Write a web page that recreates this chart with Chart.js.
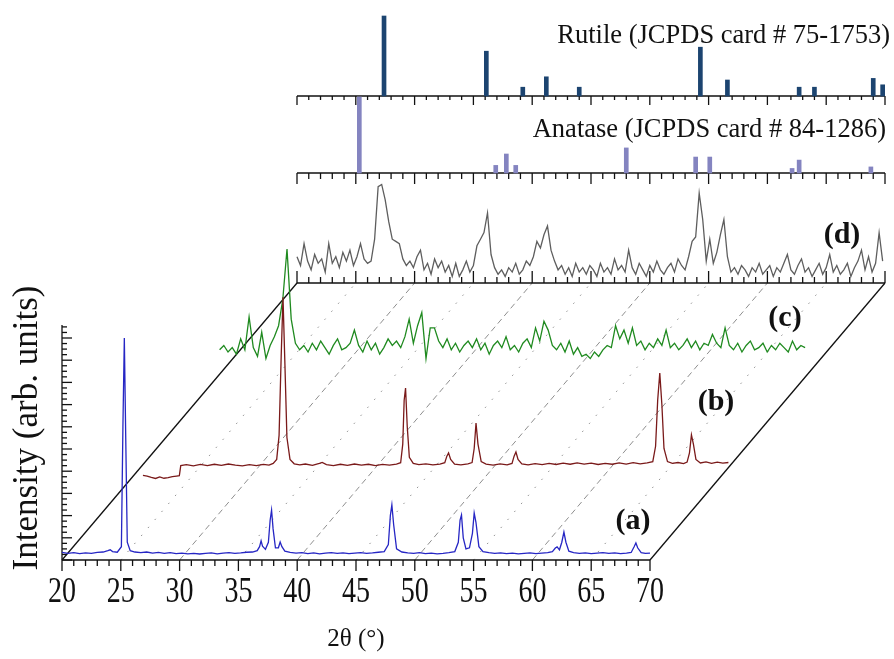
<!DOCTYPE html>
<html>
<head>
<meta charset="utf-8">
<script src="https://cdn.jsdelivr.net/npm/chart.js@4.4.1/dist/chart.umd.min.js"></script>
<style>
html, body { margin: 0; padding: 0; background: #fff; }
#wrap { width: 894px; height: 659px; position: relative; }
</style>
</head>
<body>
<div id="wrap"><canvas id="xrd"></canvas></div>
<script>
// ---- reference stick patterns (2theta, relative intensity) ----
const rutilePos = [27.4, 36.1, 39.2, 41.2, 44.0, 54.3, 56.6, 62.7, 64.0, 69.0, 69.8];
const rutileInt = [100, 56, 11, 24, 11, 61, 20, 11, 11, 22, 14];
const anatasePos = [25.3, 36.9, 37.8, 38.6, 48.0, 53.9, 55.1, 62.1, 62.7, 68.8];
const anataseInt = [100, 10, 25, 10, 33, 21, 21, 6, 17, 8];

// ---- measured patterns ----
// (a) [2theta, intensity]
const seriesA = [[20.0,3.4],[20.5,3.0],[21.0,3.3],[21.5,2.9],[22.0,3.2],[22.5,3.0],[23.0,3.4],[23.5,3.6],[23.9,4.2],[24.1,4.6],[24.3,3.8],[24.7,3.5],[25.05,6],[25.18,60],[25.3,100],[25.42,55],[25.55,8],[25.8,4.2],[26.2,3.6],[26.7,3.3],[27.2,3.6],[27.7,3.1],[28.2,3.4],[28.7,3.0],[29.2,3.3],[29.7,2.9],[30.2,3.1],[30.7,2.8],[31.2,3.0],[31.7,2.7],[32.2,3.0],[32.7,3.2],[33.2,2.8],[33.7,3.1],[34.2,3.3],[34.7,3.0],[35.2,3.2],[35.7,3.5],[36.2,3.6],[36.6,4.2],[36.8,6.0],[36.93,8.6],[37.05,6.2],[37.3,4.8],[37.55,8],[37.7,18],[37.82,22.5],[37.95,14],[38.15,5.5],[38.4,5.5],[38.55,8.1],[38.7,6],[38.95,4],[39.4,3.4],[39.9,3.1],[40.4,3.3],[40.9,2.9],[41.4,3.2],[41.9,2.8],[42.4,3.1],[42.9,3.3],[43.4,3.0],[43.9,3.2],[44.4,2.9],[44.9,3.1],[45.4,3.3],[45.9,3.0],[46.4,3.2],[46.9,3.5],[47.4,3.8],[47.75,7],[47.92,20],[48.05,24.8],[48.2,16],[48.45,5],[48.9,3.6],[49.4,3.2],[49.9,3.0],[50.4,3.3],[50.9,2.9],[51.4,3.1],[51.9,2.8],[52.4,3.0],[52.9,3.3],[53.4,3.8],[53.7,8],[53.85,18],[53.97,20.3],[54.12,10],[54.35,5],[54.65,5.5],[54.9,12],[55.05,21.2],[55.2,17],[55.45,6],[55.8,3.8],[56.3,3.3],[56.8,3.0],[57.3,3.2],[57.8,2.9],[58.3,3.1],[58.8,2.8],[59.3,3.0],[59.8,3.2],[60.3,2.9],[60.8,3.1],[61.3,3.3],[61.7,3.8],[61.95,5.4],[62.1,5.9],[62.3,4.6],[62.5,8],[62.68,12.6],[62.85,8],[63.1,4],[63.5,3.3],[64.0,3.0],[64.5,3.2],[65.0,2.9],[65.5,3.1],[66.0,3.3],[66.5,3.0],[67.0,3.2],[67.5,2.9],[68.0,3.1],[68.4,3.4],[68.65,6],[68.8,7.7],[68.95,5.5],[69.25,3.3],[69.6,3.0],[70.0,3.1]];

// (b) [2theta, intensity]
const seriesB = [[17.4,-4.3],[17.7,-4.6],[18.0,-5.2],[18.3,-5.7],[18.6,-5.0],[18.9,-5.6],[19.2,-5.3],[19.5,-4.9],[19.8,-4.6],[20.0,-4.4],[20.1,0.2],[20.5,0.6],[21.0,0.1],[21.5,0.7],[22.0,0.2],[22.5,0.8],[23.0,0.3],[23.5,0.9],[24.0,0.4],[24.5,0.1],[25.0,0.6],[25.5,0.2],[26.0,0.7],[26.4,0.4],[26.7,1.2],[26.95,3],[27.12,14],[27.27,50],[27.4,77],[27.53,48],[27.68,13],[27.9,3],[28.2,1.0],[28.6,0.5],[29.0,0.9],[29.5,0.3],[30.0,1.2],[30.2,1.6],[30.5,0.6],[31.0,0.2],[31.5,0.8],[32.0,0.3],[32.5,0.9],[33.0,0.4],[33.5,0.8],[34.0,0.2],[34.5,0.7],[35.0,0.4],[35.5,0.9],[35.8,1.5],[35.95,10],[36.05,30],[36.15,35.6],[36.27,18],[36.42,4],[36.7,1.2],[37.1,0.6],[37.6,1.0],[38.1,0.5],[38.6,0.9],[38.95,1.5],[39.1,4.5],[39.22,6],[39.37,3],[39.65,0.8],[40.1,0.5],[40.6,1.0],[40.9,1.6],[41.05,8],[41.18,19.6],[41.32,10],[41.55,2],[41.9,0.9],[42.4,0.4],[42.9,1.0],[43.4,0.5],[43.75,1.2],[43.9,4.5],[44.03,6.4],[44.18,3],[44.45,1.0],[44.9,0.5],[45.4,1.1],[45.9,0.6],[46.4,1.2],[46.9,0.7],[47.4,1.3],[47.9,0.8],[48.4,1.4],[48.9,0.9],[49.4,1.3],[49.9,0.7],[50.4,1.2],[50.9,0.8],[51.4,1.4],[51.9,0.9],[52.4,1.5],[52.9,1.0],[53.4,1.4],[53.8,2],[54.0,9],[54.15,30],[54.3,42.5],[54.45,28],[54.6,8],[54.85,2],[55.2,1.2],[55.6,1.6],[56.0,1.1],[56.25,1.8],[56.42,6],[56.56,14.2],[56.7,10],[56.88,3],[57.2,1.4],[57.6,1.9],[58.0,1.2],[58.4,1.8],[58.8,1.3],[59.2,1.6]];

// (c) sampled every 0.3 deg from 22.6
const cStart = 22.6, cStep = 0.3;
const cInt = [1,3,0,2,-1,6,1,16,2,-2, 9,-3,3,7,12,24,47,15,4,1, 3,0,4,1,5,2,-1,3,6,1, 2,4,10,3,0,5,1,4,-1,2,
  6,3,5,2,7,15,4,12,18,-3, 11,11,5,2,6,1,4,0,3,5, 2,6,1,4,-1,3,5,2,7,1, 3,0,4,6,2,11,5,14,10,3,
  1,4,0,5,-1,2,-2,-1,-3,0, -2,1,3,2,12,6,10,4,11,3, 5,1,4,2,6,3,10,2,4,1, 3,6,2,5,1,4,3,8,4,2,
  11,3,1,4,0,3,5,1,2,4, 0,3,1,4,2,0,5,1,3,2];

// (d) sampled every 0.3 deg from 20
const dStart = 20, dStep = 0.3;
const dInt = [12,8,18,10,6,13,9,11,5,18, 9,12,7,14,10,15,8,12,18,11, 9,10,20,44,45,38,28,20,19,18,
  11,8,10,7,12,15,6,9,4,11, 7,10,5,8,3,9,3,6,10,5, 8,17,20,23,32,13,7,4,6,3, 7,5,9,4,6,10,8,12,19,16,
  22,26,15,10,6,8,4,7,3,9, 5,7,4,8,6,3,9,5,7,4, 11,6,8,5,15,7,4,9,6,3, 8,5,10,6,4,7,9,5,11,8,
  6,12,19,21,41,29,10,20,9,14, 22,29,12,5,7,4,8,6,3,7, 5,9,4,6,8,3,7,5,9,13, 6,4,8,11,5,7,3,6,9,4,
  7,13,5,8,4,6,9,3,7,10, 15,6,12,5,9,23,10];

const xTicks = [20, 25, 30, 35, 40, 45, 50, 55, 60, 65, 70];
const dashedAt = [30, 40, 50, 60];
const dottedAt = [25, 35, 45, 55, 65];

// ---- layout ----
const W = 894, H = 659;
const BASE_Y = 560, PLANE_Y = 283, ANA_Y = 173, RUT_Y = 96, YAXIS_TOP = 325;

function xRange(v0, p0, v1, p1) {
  const s = (p1 - p0) / (v1 - v0);
  const min = v0 - p0 / s;
  return { min: min, max: min + W / s };
}
function yRange(v0, p0, v1, p1) {
  const s = (p0 - p1) / (v1 - v0);
  const min = v0 - (H - p0) / s;
  return { min: min, max: min + H / s };
}
function hidden(axis, r) {
  return Object.assign({ type: 'linear', axis: axis, display: false, offset: false }, r);
}

const pairs = arr => arr.map(p => ({ x: p[0], y: p[1] }));
const sampled = (start, step, vals) => vals.map((v, i) => ({ x: +(start + i * step).toFixed(2), y: v }));
const sticks = (pos, val) => pos.map((p, i) => ({ x: p, y: val[i] }));

function seg(ctx, x0, y0, x1, y1) {
  ctx.beginPath(); ctx.moveTo(x0, y0); ctx.lineTo(x1, y1); ctx.stroke();
}

const decor = {
  id: 'decor',
  beforeDatasetsDraw(chart) {
    const ctx = chart.ctx, s = chart.scales;
    const xa = v => s.xA.getPixelForValue(v), xt = v => s.xT.getPixelForValue(v);
    ctx.save();
    ctx.strokeStyle = '#8e8e8e';
    ctx.lineWidth = 1;
    ctx.setLineDash([6, 4]);
    dashedAt.forEach(v => seg(ctx, xa(v), BASE_Y, xt(v), PLANE_Y));
    ctx.setLineDash([1.5, 9]);
    dottedAt.forEach(v => seg(ctx, xa(v), BASE_Y, xt(v), PLANE_Y));
    ctx.setLineDash([]);

    ctx.strokeStyle = '#111';
    ctx.lineWidth = 1.3;
    seg(ctx, xa(20), BASE_Y, xa(70), BASE_Y);
    seg(ctx, xa(20), BASE_Y, xt(20), PLANE_Y);
    seg(ctx, xa(70), BASE_Y, xt(70), PLANE_Y);
    seg(ctx, xt(20), PLANE_Y, xt(70), PLANE_Y);
    seg(ctx, xt(20), ANA_Y, xt(70), ANA_Y);
    seg(ctx, xt(20), RUT_Y, xt(70), RUT_Y);
    seg(ctx, xa(20), BASE_Y, xa(20), YAXIS_TOP);
    for (let v = 20; v <= 70; v++) {
      const major = v % 5 === 0;
      seg(ctx, xa(v), BASE_Y, xa(v), BASE_Y + (major ? 11 : 6));
      seg(ctx, xt(v), PLANE_Y, xt(v), PLANE_Y - (major ? 12 : 6));
      seg(ctx, xt(v), ANA_Y, xt(v), ANA_Y + (major ? 11 : 6));
      seg(ctx, xt(v), RUT_Y, xt(v), RUT_Y + (major ? 9 : 4));
    }
    // intensity axis ticks
    for (let k = 0; ; k++) {
      const py = s.yA.getPixelForValue(k * 2.5);
      if (py < YAXIS_TOP) break;
      seg(ctx, xa(20), py, xa(20) + (k % 4 === 0 ? 10 : 5), py);
    }
    ctx.restore();
  },
  afterDraw(chart) {
    const ctx = chart.ctx, s = chart.scales;
    const xa = v => s.xA.getPixelForValue(v);
    ctx.save();
    ctx.fillStyle = '#111';
    ctx.textAlign = 'center';
    ctx.textBaseline = 'top';
    ctx.font = '28px "Liberation Serif"';
    // the tick numbers are drawn a little taller than wide, as in the figure
    xTicks.forEach(v => {
      ctx.save();
      ctx.translate(xa(v), 574);
      ctx.scale(1, 1.3);
      ctx.fillText(String(v), 0, 0);
      ctx.restore();
    });
    ctx.font = '25px "Liberation Serif"';
    ctx.textBaseline = 'middle';
    ctx.fillText('2\u03b8 (\u00b0)', xa(45), 639);
    ctx.save();
    ctx.translate(28, 428);
    ctx.rotate(-Math.PI / 2);
    ctx.font = '35px "Liberation Serif"';
    ctx.fillText('Intensity (arb. units)', 0, 0);
    ctx.restore();
    ctx.textAlign = 'right';
    ctx.font = '26.5px "Liberation Serif"';
    ctx.fillText('Rutile (JCPDS card # 75-1753)', 890, 36);
    ctx.fillText('Anatase (JCPDS card # 84-1286)', 886, 130);
    ctx.textAlign = 'center';
    ctx.font = 'bold 30px "Liberation Serif"';
    ctx.fillText('(a)', 633, 521);
    ctx.fillText('(b)', 716, 402);
    ctx.fillText('(c)', 785, 318);
    ctx.fillText('(d)', 842, 235);
    ctx.restore();
  }
};

const lineStyle = { type: 'line', pointRadius: 0, borderWidth: 1.3, tension: 0, fill: false };

new Chart(document.getElementById('xrd'), {
  type: 'line',
  data: {
    datasets: [
      Object.assign({ label: '(a)', data: pairs(seriesA), borderColor: '#2626c4', xAxisID: 'xA', yAxisID: 'yA' }, lineStyle),
      Object.assign({ label: '(b)', data: pairs(seriesB), borderColor: '#7a1a1a', xAxisID: 'xB', yAxisID: 'yB' }, lineStyle),
      Object.assign({ label: '(c)', data: sampled(cStart, cStep, cInt), borderColor: '#1f8a1f', xAxisID: 'xC', yAxisID: 'yC' }, lineStyle),
      Object.assign({ label: '(d)', data: sampled(dStart, dStep, dInt), borderColor: '#5e5e5e', xAxisID: 'xT', yAxisID: 'yD' }, lineStyle),
      { type: 'bar', label: 'Rutile', data: sticks(rutilePos, rutileInt), backgroundColor: '#1c4470',
        barThickness: 4, grouped: false, xAxisID: 'xT', yAxisID: 'yR' },
      { type: 'bar', label: 'Anatase', data: sticks(anatasePos, anataseInt), backgroundColor: '#8484c0',
        barThickness: 4, grouped: false, xAxisID: 'xT', yAxisID: 'yN' }
    ]
  },
  options: {
    responsive: true,
    maintainAspectRatio: false,
    animation: false,
    events: [],
    layout: { padding: 0 },
    plugins: { legend: { display: false }, tooltip: { enabled: false } },
    scales: {
      xA: hidden('x', xRange(20, 62, 70, 650)),
      xT: hidden('x', xRange(20, 297, 70, 885)),
      xB: hidden('x', xRange(27.4, 283, 56.6, 692)),
      xC: hidden('x', xRange(27.4, 287, 56.6, 697)),
      yA: hidden('y', yRange(0, BASE_Y, 100, 338)),
      yB: hidden('y', yRange(0, 466, 100, 247)),
      yC: hidden('y', yRange(0, 352, 100, 133)),
      yD: hidden('y', yRange(0, PLANE_Y, 100, 64)),
      yR: hidden('y', yRange(0, RUT_Y, 100, 16)),
      yN: hidden('y', yRange(0, ANA_Y, 100, 97))
    }
  },
  plugins: [decor]
});
</script>
</body>
</html>
